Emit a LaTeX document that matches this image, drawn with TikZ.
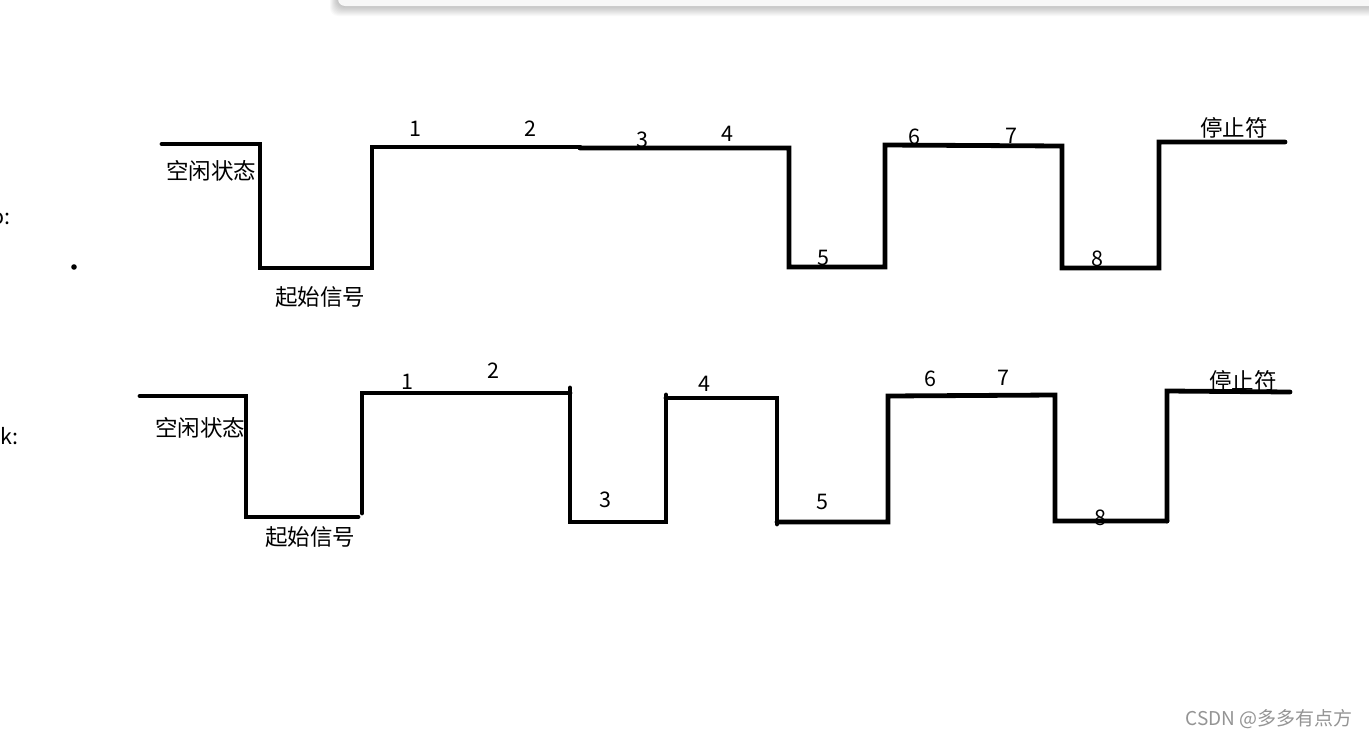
\documentclass[tikz,border=0pt]{standalone}
\usepackage{fontspec}
\setmainfont{Noto Sans CJK SC}
\begin{document}
\begin{tikzpicture}[x=1pt,y=-1pt,
  wave/.style={line width=4.8pt,line cap=round,line join=miter,black},
  lbl/.style={inner sep=0pt,font=\fontsize{21.5}{25}\selectfont},
  cjk/.style={inner sep=0pt,font=\fontsize{22.5}{26}\selectfont},
  wmark/.style={inner sep=0pt,font=\fontsize{19}{22}\selectfont,text=black!42},
  shadowlayer/.style={fill=black,opacity=0.022,rounded corners=8pt}]
\useasboundingbox (0,0) rectangle (1369,739);
\clip (0,0) rectangle (1369,739);
\fill[white] (0,0) rectangle (1369,739);
% window card with soft shadow at the top
\foreach \i in {1,2,...,10}{
  \fill[shadowlayer] (338-\i*0.8,-20) rectangle (1390,6+\i);
}
\fill[white!97!black,rounded corners=7pt] (338,-20) rectangle (1390,6);
% top waveform
\draw[wave] (162,144) -- (260,144) -- (260,268) -- (372,268) -- (372,147) -- (580,147);
\draw[wave] (580,148) -- (789,148) -- (789,267) -- (885,267) -- (885,145) -- (1062,146) -- (1062,268) -- (1159,268) -- (1159,142) -- (1285,142);
% bottom waveform
\draw[wave] (140,396) -- (246,396) -- (246,517) -- (358,517);
\draw[wave] (362,513) -- (362,393) -- (570,393);
\draw[wave] (570,388) -- (570,522) -- (666,522) -- (666,395);
\draw[wave] (666,398) -- (777,398) -- (777,524);
\draw[wave] (777,522) -- (888,522) -- (888,396) -- (1055,395) -- (1055,521) -- (1167,521);
\draw[wave] (1167,521) -- (1167,391) -- (1290,392);
% dot
\fill (74,267) circle (2.8pt);
% left labels (cut by the picture's left edge, as in the reference)
\node[lbl,anchor=east] (ltop) at (11,219) {o:};
\node[lbl,anchor=east] (lbot) at (19,436) {k:};
% top labels
\node[cjk] (idle1) at (211,171) {空闲状态};
\node[cjk] (start1) at (320,297) {起始信号};
\node[lbl] (t1) at (415,129) {1};
\node[lbl] (t2) at (530,129) {2};
\node[lbl] (t3) at (642,140) {3};
\node[lbl] (t4) at (727,134) {4};
\node[lbl] (t5) at (823,258) {5};
\node[lbl] (t6) at (914,137) {6};
\node[lbl] (t7) at (1011,136) {7};
\node[lbl] (t8) at (1097,259) {8};
\node[cjk] (stop1) at (1234,128) {停止符};
% bottom labels
\node[cjk] (idle2) at (200,428) {空闲状态};
\node[cjk] (start2) at (310,537) {起始信号};
\node[lbl] (b1) at (407,382) {1};
\node[lbl] (b2) at (493,371) {2};
\node[lbl] (b3) at (605,500) {3};
\node[lbl] (b4) at (704,384) {4};
\node[lbl] (b5) at (822,502) {5};
\node[lbl] (b6) at (930,379) {6};
\node[lbl] (b7) at (1003,378) {7};
\node[lbl] (b8) at (1100,518) {8};
\node[cjk] (stop2) at (1243,381) {停止符};
% watermark
\node[wmark,anchor=east] (wm) at (1353,719) {CSDN @多多有点方};
\end{tikzpicture}
\end{document}
